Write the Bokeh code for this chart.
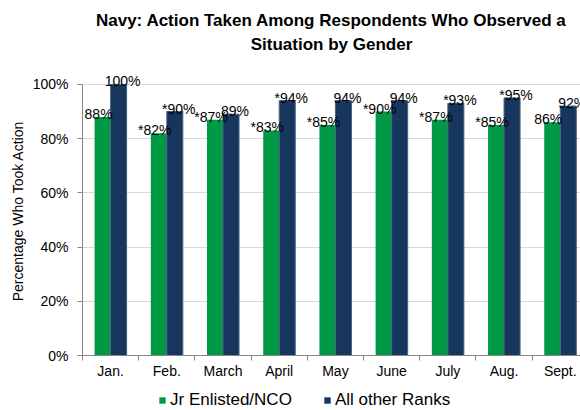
from bokeh.plotting import figure
from bokeh.layouts import column
from bokeh.models import (Range1d, FixedTicker, PrintfTickFormatter, ColumnDataSource,
                          Legend, LegendItem, Title)
from bokeh.transform import dodge
from bokeh.core.properties import value
from bokeh.embed import file_html
from bokeh.resources import INLINE

# ---- data ----
months = ["Jan.", "Feb.", "March", "April", "May", "June", "July", "Aug.", "Sept."]
jr_values = [88, 82, 87, 83, 85, 90, 87, 85, 86]
jr_starred = [False, True, True, True, True, True, True, True, False]
other_values = [100, 90, 89, 94, 94, 94, 93, 95, 92]
other_starred = [False, True, False, True, False, False, True, True, False]
y_ticks = [0, 20, 40, 60, 80, 100]
series_names = ["Jr Enlisted/NCO", "All other Ranks"]
title_lines = ["Navy: Action Taken Among Respondents Who Observed a", "Situation by Gender"]

GREEN = "#009A46"
NAVY = "#17365D"
FONT = "Liberation Sans"

idx = list(range(len(months)))
src = ColumnDataSource(dict(
    idx=idx,
    jr=jr_values,
    other=other_values,
    jr_lbl=[("*" if s else "") + f"{v}%" for v, s in zip(jr_values, jr_starred)],
    other_lbl=[("*" if s else "") + f"{v}%" for v, s in zip(other_values, other_starred)],
))

BAR_W = 0.285

p = figure(width=580, height=390,
           x_range=Range1d(-0.5, 8.36), y_range=Range1d(0, 106.6),
           output_backend="svg", toolbar_location=None,
           min_border_left=82, min_border_right=0, min_border_top=66, min_border_bottom=35)
p.outline_line_color = None
p.background_fill_color = "white"
p.border_fill_color = "white"

# blank spacer right above the plot area, then the two centred title lines
p.add_layout(Title(text=" ", text_font_size="10px", standoff=0), "above")
for line, so in zip(reversed(title_lines), [0, 5]):
    t = Title(text=line, align="center", text_font=FONT, text_font_size="17px",
              text_font_style="bold", text_color="#000000", standoff=so)
    p.add_layout(t, "above")

r1 = p.vbar(x=dodge("idx", -BAR_W / 2, range=p.x_range), top="jr", width=BAR_W,
            source=src, fill_color=GREEN, line_color=None)
r2 = p.vbar(x=dodge("idx", BAR_W / 2, range=p.x_range), top="other", width=BAR_W,
            source=src, fill_color=NAVY, line_color="#4A6283", line_width=1)

p.text(x=dodge("idx", -BAR_W / 2, range=p.x_range), y="jr", text="jr_lbl", source=src,
       text_font=value(FONT), text_font_size="14px", text_align="center",
       text_baseline="alphabetic", x_offset=-4, y_offset=-3, text_color="#000000")
p.text(x=dodge("idx", BAR_W / 2, range=p.x_range), y="other", text="other_lbl", source=src,
       text_font=value(FONT), text_font_size="14px", text_align="center",
       text_baseline="alphabetic", x_offset=4, y_offset=-3, text_color="#000000")

# y axis
ya = p.yaxis[0]
ya.ticker = FixedTicker(ticks=y_ticks)
ya.formatter = PrintfTickFormatter(format="%d%%")
ya.bounds = (0, 100)
ya.axis_line_color = "#868686"
ya.major_tick_line_color = "#868686"
ya.major_tick_out = 5
ya.major_tick_in = 0
ya.minor_tick_line_color = None
ya.major_label_standoff = 9
ya.major_label_text_font = FONT
ya.major_label_text_font_size = "14px"
ya.major_label_text_color = "#000000"
ya.axis_label = "Percentage Who Took Action"
ya.axis_label_text_font = FONT
ya.axis_label_text_font_size = "14px"
ya.axis_label_text_font_style = "normal"
ya.axis_label_text_color = "#000000"
ya.axis_label_standoff = 4

# x axis
xa = p.xaxis[0]
xa.ticker = FixedTicker(ticks=idx, minor_ticks=[i - 0.5 for i in range(len(months) + 1)])
xa.major_label_overrides = {i: m for i, m in zip(idx, months)}
xa.axis_line_color = "#868686"
xa.major_tick_line_color = None
xa.major_tick_out = 5
xa.major_tick_in = 0
xa.minor_tick_line_color = "#868686"
xa.minor_tick_out = 5
xa.minor_tick_in = 0
xa.major_label_standoff = 2
xa.major_label_text_font = FONT
xa.major_label_text_font_size = "14px"
xa.major_label_text_color = "#000000"

p.xgrid.grid_line_color = None
p.ygrid.grid_line_color = "#D9D9D9"
p.ygrid.ticker = FixedTicker(ticks=y_ticks)

# legend strip below the chart (hidden copies of the series supply the swatches)
pl = figure(width=580, height=20, x_range=p.x_range, y_range=p.y_range,
            output_backend="svg", toolbar_location=None,
            x_axis_type=None, y_axis_type=None,
            min_border_left=0, min_border_right=0, min_border_top=0, min_border_bottom=0)
pl.outline_line_color = None
pl.grid.grid_line_color = None
g1 = pl.vbar(x="idx", top="jr", width=BAR_W, source=src, fill_color=GREEN,
             line_color=None, visible=False)
g2 = pl.vbar(x="idx", top="other", width=BAR_W, source=src, fill_color=NAVY,
             line_color=None, visible=False)
legend = Legend(items=[LegendItem(label=series_names[0], renderers=[g1]),
                       LegendItem(label=series_names[1], renderers=[g2])],
                orientation="horizontal", location=(76, 0),
                glyph_width=8, glyph_height=8, label_text_font=FONT,
                label_text_font_size="17px", label_text_color="#000000",
                label_standoff=4, spacing=31, padding=0, margin=0,
                border_line_color=None, background_fill_alpha=0, label_height=18,
                inactive_fill_alpha=0)
pl.add_layout(legend, "center")

layout = column(p, pl, spacing=0)
open("out.html", "w").write(file_html(layout, INLINE))
